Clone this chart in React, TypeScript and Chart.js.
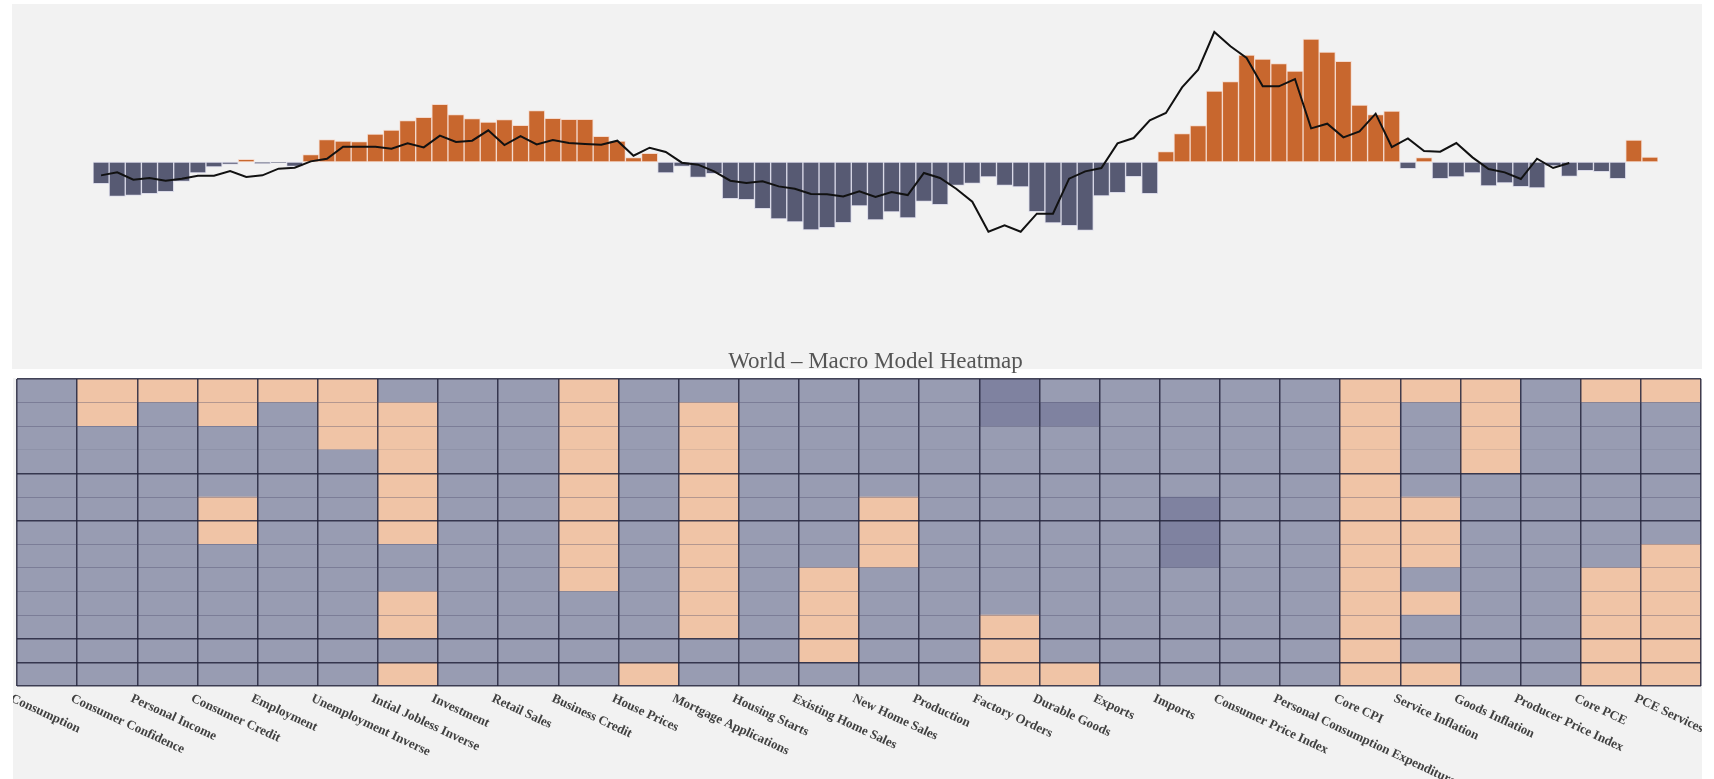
import React, { useEffect, useRef } from "react";
import { Chart, registerables } from "chart.js";

Chart.register(...registerables);

// ---- Top panel: composite score bars and trend line ----
const barValues = [
  -0.65, -1.03, -1.0, -0.95, -0.89, -0.58, -0.33, -0.15, -0.07, 0.08,
  -0.05, -0.03, -0.13, 0.22, 0.67, 0.63, 0.61, 0.84, 0.96, 1.24,
  1.34, 1.73, 1.42, 1.3, 1.2, 1.27, 1.1, 1.54, 1.31, 1.28,
  1.28, 0.77, 0.63, 0.13, 0.26, -0.33, -0.13, -0.46, -0.35, -1.1,
  -1.13, -1.4, -1.71, -1.8, -2.04, -1.97, -1.82, -1.32, -1.74, -1.5,
  -1.68, -1.18, -1.28, -0.7, -0.64, -0.45, -0.7, -0.75, -1.49, -1.83,
  -1.91, -2.05, -1.02, -0.92, -0.44, -0.95, 0.31, 0.85, 1.09, 2.13,
  2.41, 3.21, 3.09, 2.95, 2.73, 3.69, 3.3, 3.02, 1.71, 1.42,
  1.53, -0.2, 0.13, -0.5, -0.45, -0.33, -0.72, -0.63, -0.74, -0.78,
  -0.12, -0.43, -0.26, -0.29, -0.5, 0.66, 0.15,
];

const lineValues = [
  -0.4, -0.31, -0.53, -0.48, -0.56, -0.5, -0.41, -0.41, -0.27, -0.45,
  -0.4, -0.2, -0.17, 0.02, 0.1, 0.46, 0.46, 0.46, 0.4, 0.56,
  0.44, 0.79, 0.6, 0.64, 0.95, 0.51, 0.78, 0.53, 0.66, 0.57,
  0.54, 0.52, 0.64, 0.19, 0.43, 0.3, -0.02, -0.08, -0.28, -0.56,
  -0.63, -0.58, -0.73, -0.8, -0.96, -0.97, -1.03, -0.88, -1.05, -0.9,
  -0.99, -0.33, -0.48, -0.8, -1.19, -2.09, -1.9, -2.09, -1.55, -1.55,
  -0.5, -0.28, -0.18, 0.56, 0.72, 1.25, 1.47, 2.24, 2.77, 3.9,
  3.47, 3.12, 2.27, 2.27, 2.49, 1.01, 1.15, 0.74, 0.92, 1.45,
  0.45, 0.71, 0.33, 0.31, 0.57, 0.14, -0.21, -0.31, -0.51, 0.1,
  -0.18, -0.03,
];

const periods = barValues.map((_, i) => String(i + 1));

// ---- Heatmap ----
const indicators = [
  "Consumption",
  "Consumer Confidence",
  "Personal Income",
  "Consumer Credit",
  "Employment",
  "Unemployment Inverse",
  "Intial Jobless Inverse",
  "Investment",
  "Retail Sales",
  "Business Credit",
  "House Prices",
  "Mortgage Applications",
  "Housing Starts",
  "Existing Home Sales",
  "New Home Sales",
  "Production",
  "Factory Orders",
  "Durable Goods",
  "Exports",
  "Imports",
  "Consumer Price Index",
  "Personal Consumption Expenditure",
  "Core CPI",
  "Service Inflation",
  "Goods Inflation",
  "Producer Price Index",
  "Core PCE",
  "PCE Services",
];

// 0 = neutral/negative, 1 = positive, 2 = strongly negative ; rows listed top to bottom
const row01 = [0, 1, 1, 1, 1, 1, 0, 0, 0, 1, 0, 0, 0, 0, 0, 0, 2, 0, 0, 0, 0, 0, 1, 1, 1, 0, 1, 1];
const row02 = [0, 1, 0, 1, 0, 1, 1, 0, 0, 1, 0, 1, 0, 0, 0, 0, 2, 2, 0, 0, 0, 0, 1, 0, 1, 0, 0, 0];
const row03 = [0, 0, 0, 0, 0, 1, 1, 0, 0, 1, 0, 1, 0, 0, 0, 0, 0, 0, 0, 0, 0, 0, 1, 0, 1, 0, 0, 0];
const row04 = [0, 0, 0, 0, 0, 0, 1, 0, 0, 1, 0, 1, 0, 0, 0, 0, 0, 0, 0, 0, 0, 0, 1, 0, 1, 0, 0, 0];
const row05 = [0, 0, 0, 0, 0, 0, 1, 0, 0, 1, 0, 1, 0, 0, 0, 0, 0, 0, 0, 0, 0, 0, 1, 0, 0, 0, 0, 0];
const row06 = [0, 0, 0, 1, 0, 0, 1, 0, 0, 1, 0, 1, 0, 0, 1, 0, 0, 0, 0, 2, 0, 0, 1, 1, 0, 0, 0, 0];
const row07 = [0, 0, 0, 1, 0, 0, 1, 0, 0, 1, 0, 1, 0, 0, 1, 0, 0, 0, 0, 2, 0, 0, 1, 1, 0, 0, 0, 0];
const row08 = [0, 0, 0, 0, 0, 0, 0, 0, 0, 1, 0, 1, 0, 0, 1, 0, 0, 0, 0, 2, 0, 0, 1, 1, 0, 0, 0, 1];
const row09 = [0, 0, 0, 0, 0, 0, 0, 0, 0, 1, 0, 1, 0, 1, 0, 0, 0, 0, 0, 0, 0, 0, 1, 0, 0, 0, 1, 1];
const row10 = [0, 0, 0, 0, 0, 0, 1, 0, 0, 0, 0, 1, 0, 1, 0, 0, 0, 0, 0, 0, 0, 0, 1, 1, 0, 0, 1, 1];
const row11 = [0, 0, 0, 0, 0, 0, 1, 0, 0, 0, 0, 1, 0, 1, 0, 0, 1, 0, 0, 0, 0, 0, 1, 0, 0, 0, 1, 1];
const row12 = [0, 0, 0, 0, 0, 0, 0, 0, 0, 0, 0, 0, 0, 1, 0, 0, 1, 0, 0, 0, 0, 0, 1, 0, 0, 0, 1, 1];
const row13 = [0, 0, 0, 0, 0, 0, 1, 0, 0, 0, 1, 0, 0, 0, 0, 0, 1, 1, 0, 0, 0, 0, 1, 1, 0, 0, 1, 1];

const heatRows = [row01, row02, row03, row04, row05, row06, row07, row08, row09, row10, row11, row12, row13];

const ORANGE = "#c8672e";
const SLATE = "#575a73";
const CELL_COLORS = ["#989cb2", "#f0c4a6", "#7f82a0"];
const PANEL_BG = "#f2f2f2";

function TopChart() {
  const ref = useRef<HTMLCanvasElement>(null);
  useEffect(() => {
    if (!ref.current) return;
    const panelBg = {
      id: "panelBg",
      beforeDraw(chart: any) {
        const { ctx, width } = chart;
        ctx.save();
        ctx.fillStyle = PANEL_BG;
        ctx.fillRect(0, 0, width, 365);
        ctx.restore();
      },
    };
    const chart = new Chart(ref.current, {
      type: "bar",
      data: {
        labels: periods,
        datasets: [
          {
            type: "line",
            data: lineValues,
            borderColor: "#111111",
            borderWidth: 2,
            pointRadius: 0,
            tension: 0,
            order: 0,
          } as any,
          {
            type: "bar",
            data: barValues,
            backgroundColor: barValues.map((v) => (v >= 0 ? ORANGE : SLATE)),
            borderColor: barValues.map((v) =>
              v >= 0 ? "rgba(244,214,200,0.85)" : "rgba(214,214,230,0.85)"
            ),
            borderWidth: 1,
            borderSkipped: false,
            barPercentage: 1,
            categoryPercentage: 1,
            order: 1,
          } as any,
        ],
      },
      options: {
        animation: false,
        responsive: true,
        maintainAspectRatio: false,
        layout: { padding: { left: 81, right: 44, top: 0, bottom: 0 } },
        plugins: {
          legend: { display: false },
          tooltip: { enabled: false },
          title: {
            display: true,
            position: "bottom",
            text: "World – Macro Model Heatmap",
            color: "#555555",
            font: { family: "'Liberation Serif', 'DejaVu Serif', serif", size: 23, weight: "normal" },
            padding: { top: 0, bottom: 0 },
          },
        },
        scales: {
          x: { display: false },
          y: { display: false, min: -5.59, max: 4.74 },
        },
      },
      plugins: [panelBg],
    });
    return () => chart.destroy();
  }, []);
  return (
    <div style={{ position: "absolute", left: 12, top: 4, width: 1690, height: 372 }}>
      <canvas ref={ref} />
    </div>
  );
}

function HeatmapChart() {
  const ref = useRef<HTMLCanvasElement>(null);
  useEffect(() => {
    if (!ref.current) return;
    const nRows = heatRows.length;
    // stacked from bottom: dataset 0 is the bottom row
    const datasets = heatRows
      .slice()
      .reverse()
      .map((row, j) => ({
        label: "row" + (nRows - j),
        data: row.map(() => 1),
        backgroundColor: row.map((s) => CELL_COLORS[s]),
        borderWidth: 0,
        barPercentage: 1,
        categoryPercentage: 1,
      }));

    const darkRows = new Set([13, 9, 7, 2, 1, 0]);
    const faintRows = new Set([10]);

    const labelPlugin = {
      id: "slantLabels",
      afterDraw(chart: any) {
        const { ctx, chartArea } = chart;
        const xs = chart.scales.x;
        const half = (xs.getPixelForValue(1) - xs.getPixelForValue(0)) / 2;
        ctx.save();
        ctx.fillStyle = "#404040";
        ctx.font = "bold 13px 'Liberation Serif', 'DejaVu Serif', serif";
        ctx.textAlign = "left";
        ctx.textBaseline = "top";
        indicators.forEach((name, i) => {
          const x = xs.getPixelForValue(i) - half - 3;
          const y = chartArea.bottom + 6;
          ctx.save();
          ctx.translate(Math.max(x, 1), y);
          ctx.rotate((25 * Math.PI) / 180);
          ctx.fillText(name, 0, 0);
          ctx.restore();
        });
        ctx.restore();
      },
    };

    const chart = new Chart(ref.current, {
      type: "bar",
      data: { labels: indicators, datasets },
      options: {
        animation: false,
        responsive: true,
        maintainAspectRatio: false,
        layout: { padding: { left: 4, right: 1, top: 1, bottom: 93 } },
        plugins: { legend: { display: false }, tooltip: { enabled: false }, title: { display: false } },
        scales: {
          x: {
            stacked: true,
            offset: true,
            ticks: { display: false },
            border: { display: false },
            grid: {
              offset: true,
              drawTicks: false,
              z: 1,
              color: "rgba(35,37,60,0.85)",
              lineWidth: 1.5,
            },
          },
          y: {
            stacked: true,
            min: 0,
            max: nRows,
            ticks: { display: false, stepSize: 1 },
            border: { display: false },
            grid: {
              drawTicks: false,
              z: 1,
              color: (c: any) => {
                const v = c.tick ? c.tick.value : 0;
                if (darkRows.has(v)) return "rgba(35,37,60,0.85)";
                if (faintRows.has(v)) return "rgba(70,70,100,0.12)";
                return "rgba(70,70,100,0.35)";
              },
              lineWidth: (c: any) => {
                const v = c.tick ? c.tick.value : 0;
                return darkRows.has(v) ? 1.5 : 1;
              },
            },
          },
        },
      },
      plugins: [labelPlugin],
    });
    return () => chart.destroy();
  }, []);
  return (
    <div style={{ position: "absolute", left: 13, top: 378, width: 1689, height: 401, background: PANEL_BG }}>
      <canvas ref={ref} />
    </div>
  );
}

export default function App() {
  return (
    <div
      style={{
        position: "fixed",
        left: 0,
        top: 0,
        width: 1714,
        height: 779,
        background: "#ffffff",
        overflow: "hidden",
      }}
    >
      <TopChart />
      <HeatmapChart />
    </div>
  );
}
